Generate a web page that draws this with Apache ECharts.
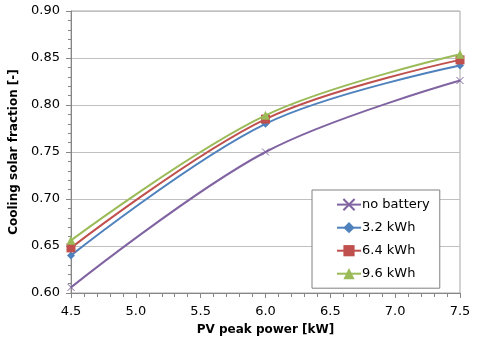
<!DOCTYPE html>
<html><head><meta charset="utf-8">
<script src="https://cdn.jsdelivr.net/npm/echarts@6/dist/echarts.min.js"></script>
<style>html,body{margin:0;padding:0;background:#fff}#c{width:480px;height:347px}</style>
</head><body><div id="c"></div>
<script>
const pvPower = [4.5, 6.0, 7.5];
const seriesNames = ['no battery', '3.2 kWh', '6.4 kWh', '9.6 kWh'];
const noBattery = [0.606, 0.750, 0.826];
const kwh32 = [0.640, 0.780, 0.842];
const kwh64 = [0.648, 0.785, 0.848];
const kwh96 = [0.656, 0.789, 0.854];
const allValues = [noBattery, kwh32, kwh64, kwh96];
const colors = ['#8064A2', '#4F81BD', '#C0504D', '#9BBB59'];
const crossPath = 'path://M0,0L10,10M10,0L0,10';
const symbols = [crossPath, 'diamond', 'rect', 'triangle'];
const symbolSizes = [7, 8, 9, 9];
const font = 'DejaVu Sans';

const chart = echarts.init(document.getElementById('c'), null, {renderer: 'canvas'});
const series = seriesNames.map((n, i) => ({
  name: n,
  type: 'line',
  smooth: 0.35,
  data: pvPower.map((x, j) => [x, allValues[i][j]]),
  symbol: symbols[i],
  symbolSize: symbolSizes[i],
  lineStyle: {color: colors[i], width: 2},
  itemStyle: i === 0 ? {color: colors[i], borderColor: colors[i], borderWidth: 1} : {color: colors[i]},
  z: 2 + i
}));
chart.setOption({
  animation: false,
  grid: {left: 71, right: 20, top: 11, bottom: 54, show: true, borderColor: '#a6a6a6', borderWidth: 1},
  legend: {
    orient: 'vertical', left: 312, top: 190, width: 140, height: 97,
    padding: [8, 10, 8, 24],
    itemGap: 10, itemWidth: 24, itemHeight: 14,
    borderColor: '#808080', borderWidth: 1, backgroundColor: '#fff',
    textStyle: {fontFamily: font, fontSize: 13, color: '#000', padding: [0,0,0,-4]},
    data: seriesNames
  },
  xAxis: {
    type: 'value', min: 4.5, max: 7.5, interval: 0.5,
    name: 'PV peak power [kW]', nameLocation: 'middle', nameGap: 31,
    nameTextStyle: {fontFamily: font, fontSize: 12, fontWeight: 'bold', color: '#000'},
    axisLine: {lineStyle: {color: '#868686'}},
    axisTick: {show: true, length: 5, lineStyle: {color: '#868686'}},
    minorTick: {show: true, splitNumber: 5, length: 4, lineStyle: {color: '#868686'}},
    splitLine: {show: false},
    axisLabel: {fontFamily: font, fontSize: 13, color: '#000', margin: 12, formatter: v => v.toFixed(1)}
  },
  yAxis: {
    type: 'value', min: 0.6, max: 0.9, interval: 0.05,
    name: 'Cooling solar fraction [-]', nameLocation: 'middle', nameGap: 47, nameRotate: 90,
    nameTextStyle: {fontFamily: font, fontSize: 12, fontWeight: 'bold', color: '#000'},
    axisLine: {show: true, lineStyle: {color: '#868686'}},
    axisTick: {show: true, length: 5, lineStyle: {color: '#868686'}},
    minorTick: {show: true, splitNumber: 5, length: 3, lineStyle: {color: '#868686'}},
    splitLine: {show: true, lineStyle: {color: '#c0c0c0'}},
    axisLabel: {fontFamily: font, fontSize: 13, color: '#000', margin: 11, formatter: v => v.toFixed(2)}
  },
  series: series
});
</script></body></html>
